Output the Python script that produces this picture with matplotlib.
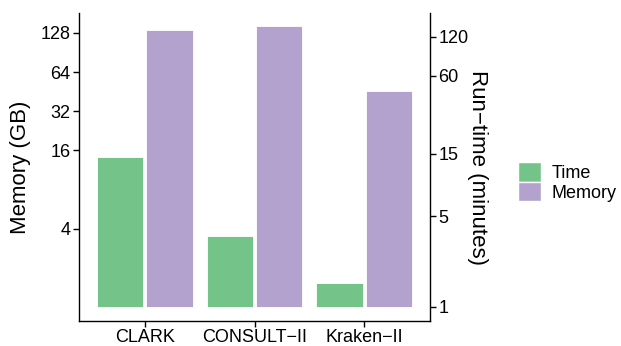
import numpy as np
import matplotlib
matplotlib.use("Agg")
import matplotlib.pyplot as plt
from matplotlib.patches import Patch

# =====================================================
# Data (time in minutes, memory in GB, shared log scale)
# =====================================================

tools = ["CLARK", "CONSULT\u2212II", "Kraken\u2212II"]
time_min = [14.2, 3.5, 1.53]
memory_gb = [134, 145, 45.7]

left_ticks = [4, 16, 32, 64, 128]
right_ticks = [1, 5, 15, 60, 120]

green = "#74C48A"
purple = "#B3A2CE"

plt.rcParams["font.family"] = ["Liberation Sans", "DejaVu Sans"]

# =====================================================
# Plot
# =====================================================

fig = plt.figure(figsize=(6.21, 3.46), dpi=100)
ax = fig.add_axes([79 / 621, 1 - 321 / 346, 351 / 621, 308 / 346])

x = np.arange(1, len(tools) + 1)
w = 0.42
off = 0.225
base = 1.0

ax.bar(x - off, np.array(time_min) - base, width=w, bottom=base,
       color=green, edgecolor="white", linewidth=0.6)
ax.bar(x + off, np.array(memory_gb) - base, width=w, bottom=base,
       color=purple, edgecolor="white", linewidth=0.6)

ax.set_yscale("log")
ax.set_ylim(0.78, 182)
ax.set_xlim(0.4, 3.6)

ax.set_xticks(x)
ax.set_xticklabels(tools, fontsize=13)
ax.set_yticks(left_ticks)
ax.set_yticklabels([str(t) for t in left_ticks], fontsize=13)
ax.minorticks_off()
ax.set_ylabel("Memory (GB)", fontsize=16, labelpad=7)

ax2 = ax.twinx()
ax2.set_yscale("log")
ax2.set_ylim(ax.get_ylim())
ax2.set_yticks(right_ticks)
ax2.set_yticklabels([str(t) for t in right_ticks], fontsize=13)
ax2.minorticks_off()
ax2.set_ylabel("Run\u2212time (minutes)", fontsize=16, rotation=270,
               labelpad=14)

for a in (ax, ax2):
    a.spines["top"].set_visible(False)
    for s in a.spines.values():
        s.set_linewidth(1.0)
    a.tick_params(axis="both", length=4, width=1.0, color="black",
                  labelcolor="black", pad=2)
ax.spines["right"].set_visible(False)
ax2.spines["left"].set_visible(False)
ax2.spines["bottom"].set_visible(False)

handles = [Patch(facecolor=green, edgecolor="white", label="Time"),
           Patch(facecolor=purple, edgecolor="white", label="Memory")]
fig.legend(handles=handles, loc="center left",
           bbox_to_anchor=(518 / 621, 1 - 182 / 346),
           frameon=False, fontsize=13, handlelength=1.28,
           handleheight=1.28, labelspacing=0.0, handletextpad=0.6,
           borderpad=0, borderaxespad=0)

fig.savefig("out.png", dpi=100)
